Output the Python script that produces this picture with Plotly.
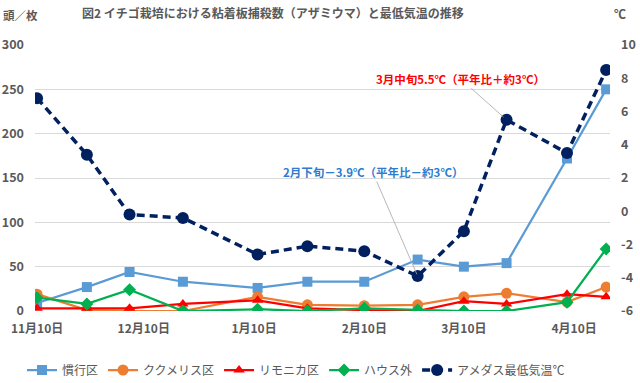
import plotly.graph_objects as go

dates = ["2018-11-10", "2018-11-24", "2018-12-06", "2018-12-21", "2019-01-11", "2019-01-25",
         "2019-02-10", "2019-02-25", "2019-03-10", "2019-03-22", "2019-04-08", "2019-04-19"]
kanko = [9, 27, 44, 33, 26, 33, 33, 58, 50, 54, 172, 250]
kukumeris = [19, 1, 0, 0, 16, 7, 6, 7, 16, 20, 10, 27]
rimonica = [3, 3, 3, 8, 12, 3, 1, 0, 11, 8, 19, 16]
house_out = [15, 8, 24, 0, 2, 0, 3, 1, 0, 0, 10, 70]
temp_min = [6.8, 3.4, -0.2, -0.4, -2.6, -2.1, -2.4, -3.9, -1.2, 5.5, 3.5, 8.5]

xtick_vals = ["2018-11-10", "2018-12-10", "2019-01-10", "2019-02-10", "2019-03-10", "2019-04-10"]
xtick_text = ["11月10日", "12月10日", "1月10日", "2月10日", "3月10日", "4月10日"]
y2_ticks = [-6, -4, -2, 0, 2, 4, 6, 8, 10]
y2_text = ["-6", "-4", "-2", "0", "2", "4", "6", "8", "10"]

FONT = "Noto Sans CJK JP"
GRAY = "#595959"
W, H = 640, 383
L, R, T, B = 35, 30, 45, 72


def px(xp):
    return (xp - L) / (W - L - R)


def py(yp):
    return (H - B - yp) / (H - T - B)


fig = go.Figure()
fig.add_trace(go.Scatter(x=dates, y=kanko, name="慣行区", mode="lines+markers",
                         line=dict(color="#5B9BD5", width=2.25),
                         marker=dict(symbol="square", size=10, color="#5B9BD5")))
fig.add_trace(go.Scatter(x=dates, y=kukumeris, name="ククメリス区", mode="lines+markers",
                         line=dict(color="#ED7D31", width=2.25),
                         marker=dict(symbol="circle", size=11, color="#ED7D31")))
fig.add_trace(go.Scatter(x=dates, y=rimonica, name="リモニカ区", mode="lines+markers",
                         line=dict(color="#FF0000", width=2.25),
                         marker=dict(symbol="triangle-up", size=10, color="#FF0000")))
fig.add_trace(go.Scatter(x=dates, y=house_out, name="ハウス外", mode="lines+markers",
                         line=dict(color="#00B050", width=2.25),
                         marker=dict(symbol="diamond", size=10, color="#00B050")))
fig.add_trace(go.Scatter(x=dates, y=temp_min, name="アメダス最低気温℃", mode="lines+markers",
                         yaxis="y2",
                         line=dict(color="#002060", width=3.5, dash="8px,5px"),
                         marker=dict(symbol="circle", size=12, color="#002060")))

fig.update_layout(
    width=W, height=H,
    margin=dict(l=L, r=R, t=T, b=B, autoexpand=False),
    paper_bgcolor="white", plot_bgcolor="white",
    font=dict(family=FONT, color=GRAY, size=12),
    showlegend=True,
    legend=dict(orientation="h", x=296 / W, xref="container", xanchor="center",
                y=1 - 370 / H, yref="container", yanchor="middle",
                font=dict(size=12, color=GRAY, family=FONT), itemwidth=30,
                tracegroupgap=0),
    xaxis=dict(type="date", range=["2018-11-09 10:00", "2019-04-20 02:00"],
               tickvals=xtick_vals, ticktext=xtick_text, showgrid=False,
               zeroline=False, showline=False, automargin=False,
               tickfont=dict(size=12, color=GRAY, family=FONT, weight="bold"),
               ticklabelstandoff=9),
    yaxis=dict(range=[0, 300], dtick=50, showgrid=True, gridcolor="#D9D9D9", gridwidth=1,
               zeroline=False, showline=False, automargin=False,
               tickfont=dict(size=12.5, color=GRAY, family=FONT, weight="bold"),
               ticklabelstandoff=10),
    yaxis2=dict(range=[-6, 10], overlaying="y", side="right", tickvals=y2_ticks,
                ticktext=y2_text, showgrid=False, zeroline=False, showline=False,
                automargin=False,
                tickfont=dict(size=12.5, color=GRAY, family=FONT, weight="bold"),
                ticklabelstandoff=10),
    annotations=[
        dict(text="図2 イチゴ栽培における粘着板捕殺数（アザミウマ）と最低気温の推移",
             xref="paper", yref="paper", x=px(80), y=py(12), xanchor="left",
             yanchor="middle", showarrow=False,
             font=dict(size=12, color=GRAY, family=FONT, weight="bold")),
        dict(text="頭／枚", xref="paper", yref="paper", x=px(1), y=py(15), xanchor="left",
             yanchor="middle", showarrow=False,
             font=dict(size=11.5, color=GRAY, family=FONT, weight="bold")),
        dict(text="℃", xref="paper", yref="paper", x=px(620), y=py(13), xanchor="center",
             yanchor="middle", showarrow=False,
             font=dict(size=12, color=GRAY, family=FONT, weight="bold")),
        dict(text="2月下旬－3.9℃（平年比－約3℃）", x=dates[7], y=temp_min[7],
             xref="x", yref="y2", showarrow=True, arrowhead=0, arrowwidth=0.8,
             arrowcolor="#A6A6A6", ax=-45, ay=-104, standoff=2,
             font=dict(size=11.5, color="#2E7BCF", family=FONT, weight="bold")),
        dict(text="3月中旬5.5℃（平年比＋約3℃）", x=dates[9], y=temp_min[9],
             xref="x", yref="y2", showarrow=True, arrowhead=0, arrowwidth=0.8,
             arrowcolor="#A6A6A6", ax=-46, ay=-41, standoff=4,
             font=dict(size=11.5, color="#FF0000", family=FONT, weight="bold")),
    ],
)

fig.write_html("out.html", config={"displayModeBar": False},
               post_script="document.body.style.margin='0';")
